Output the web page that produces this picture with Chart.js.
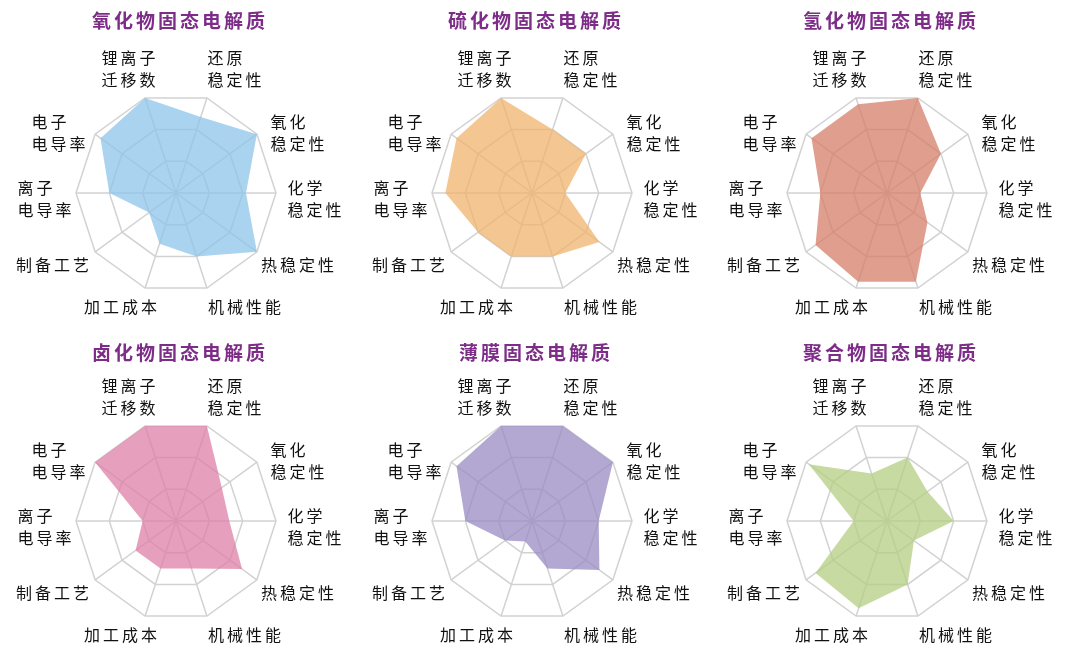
<!DOCTYPE html>
<html>
<head>
<meta charset="utf-8">
<script src="https://cdn.jsdelivr.net/npm/chart.js@4"></script>
<style>
  html, body { margin: 0; padding: 0; background: #fff; }
  #wrap { position: relative; width: 1080px; height: 655px; }
  .panel { position: absolute; width: 360px; height: 328px; }
</style>
</head>
<body>
<div id="wrap"></div>
<script>
// axis categories, clockwise from the upper-left spoke
const categories = [
  ['锂离子', '迁移数'], ['还原', '稳定性'], ['氧化', '稳定性'], ['化学', '稳定性'],
  ['热稳定性'], ['机械性能'], ['加工成本'], ['制备工艺'], ['离子', '电导率'], ['电子', '电导率']
];

const titles = ['氧化物固态电解质', '硫化物固态电解质', '氢化物固态电解质',
                '卤化物固态电解质', '薄膜固态电解质', '聚合物固态电解质'];

// scores (0..3)
const oxide    = [3,   2.4, 3,   2.1, 3,    2,   1.6,  1,    2,   2.8];
const sulfide  = [3,   2,   2,   1,   2.5,  2,   2,    2,    2.6, 2.8];
const hydride  = [2.8, 3,   2,   1,   1.5,  2.8, 2.8,  2.65, 2,   2.8];
const halide   = [3,   3,   1.7, 1.6, 2.45, 1.5, 1.5,  1.5,  1,   3];
const thinFilm = [3,   3,   3,   2,   2.5,  1.5, 0.65, 1,    2,   2.8];
const polymer  = [1.5, 2,   1.5, 2,   1,    2,   2.75, 2.65, 1,   2.9];

const seriesList = [oxide, sulfide, hydride, halide, thinFilm, polymer];
const fills = ['rgba(140,196,234,0.75)', 'rgba(240,180,110,0.75)', 'rgba(214,126,104,0.75)',
               'rgba(222,128,168,0.75)', 'rgba(152,139,195,0.75)', 'rgba(180,206,130,0.75)'];

// layout: chart centre inside each 360x328 panel
const centerX = [176, 172, 167];
const centerY = 193;
const titleY = [21, 25];
const R = 100;
// label block centre offset from the outer vertex of each spoke
const labelOffsets = [[-15, -29], [29, -29], [42, -1], [40, 6], [42, 13], [39, 19],
                      [-23, 19], [-41, 13], [-30, 6], [-35, -1]];

const labelPlugin = {
  id: 'labelPlugin',
  afterDraw(chart, args, opts) {
    const ctx = chart.ctx;
    const scale = chart.scales.r;
    ctx.save();
    // title
    ctx.font = 'bold 19px "Noto Sans CJK SC"';
    ctx.letterSpacing = '3px';
    ctx.fillStyle = '#7d2d88';
    ctx.textAlign = 'center';
    ctx.textBaseline = 'middle';
    ctx.fillText(opts.title, scale.xCenter + 4, opts.titleY);
    // axis labels
    ctx.font = '16px "Noto Sans CJK SC"';
    ctx.letterSpacing = '3px';
    ctx.fillStyle = '#111';
    ctx.textAlign = 'left';
    categories.forEach((lines, i) => {
      const p = scale.getPointPosition(i, scale.drawingArea);
      const bx = p.x + labelOffsets[i][0];
      const by = p.y + labelOffsets[i][1];
      const w = Math.max(...lines.map(s => ctx.measureText(s).width));
      lines.forEach((s, j) => {
        ctx.fillText(s, bx - w / 2, by + (j - (lines.length - 1) / 2) * 22);
      });
    });
    ctx.restore();
  }
};

const wrap = document.getElementById('wrap');
seriesList.forEach((values, k) => {
  const col = k % 3, row = Math.floor(k / 3);
  const div = document.createElement('div');
  div.className = 'panel';
  div.style.left = (col * 360) + 'px';
  div.style.top = (row * 328) + 'px';
  const canvas = document.createElement('canvas');
  canvas.width = 360;
  canvas.height = 328;
  div.appendChild(canvas);
  wrap.appendChild(div);

  const cx = centerX[col];
  new Chart(canvas.getContext('2d'), {
    type: 'radar',
    data: {
      labels: categories,
      datasets: [{
        data: values,
        backgroundColor: fills[k],
        borderWidth: 0,
        pointRadius: 0,
        fill: true
      }]
    },
    options: {
      responsive: false,
      animation: false,
      layout: {
        padding: { left: cx - R, right: 360 - cx - R, top: centerY - R, bottom: 328 - centerY - R }
      },
      plugins: {
        legend: { display: false },
        tooltip: { enabled: false },
        labelPlugin: { title: titles[k], titleY: titleY[row] }
      },
      scales: {
        r: {
          min: 0,
          max: 3,
          startAngle: -18,
          ticks: { display: false, stepSize: 1 },
          pointLabels: { display: false },
          grid: { color: '#d2d2d2', lineWidth: 1.5 },
          angleLines: { color: '#d2d2d2', lineWidth: 1.5 }
        }
      }
    },
    plugins: [labelPlugin]
  });
});
</script>
</body>
</html>
